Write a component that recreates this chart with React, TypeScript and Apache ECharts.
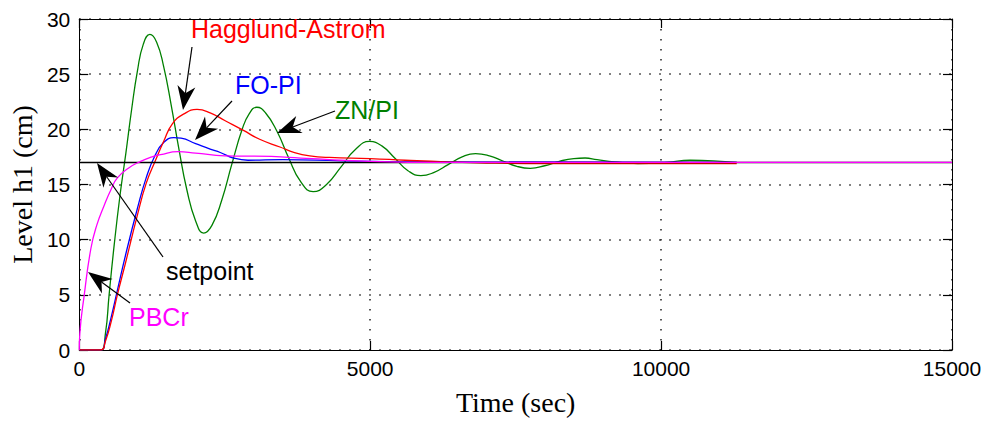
import React, { useEffect, useRef } from "react";
import * as echarts from "echarts";

// ---- data ----
const X_TICKS = [0, 5000, 10000, 15000];
const Y_TICKS = [0, 5, 10, 15, 20, 25, 30];

const ZN_T = [0, 370, 450, 513, 600, 700, 800, 900, 1000, 1100, 1214, 1330, 1450, 1580, 1710, 1850, 2000, 2138, 2280, 2450, 2620, 2800, 2920, 3050, 3200, 3400, 3600, 3800, 4019, 4250, 4500, 4750, 4988, 5200, 5430, 5650, 5872, 6100, 6340, 6580, 6812, 7050, 7280, 7520, 7753, 8000, 8250, 8500, 8694, 8900, 9200, 9600, 10100, 10500, 10900, 11300];
const ZN_V = [0, 0, 1.5, 5, 9.5, 14, 17.8, 21.8, 25.3, 27.7, 28.6, 27.9, 25.7, 22.2, 18.3, 14.5, 11.7, 10.6, 11.3, 13.6, 16.8, 20, 21.4, 22, 21.5, 19.8, 17.4, 15.3, 14.35, 15, 16.6, 18.2, 18.9, 18.5, 17.35, 16.25, 15.8, 16.1, 16.8, 17.5, 17.8, 17.6, 17.13, 16.65, 16.47, 16.7, 17.1, 17.35, 17.4, 17.25, 17.05, 16.9, 17.0, 17.2, 17.15, 17.0];

const HA_T = [0, 370, 450, 550, 655, 800, 998, 1150, 1311, 1450, 1600, 1800, 2024, 2250, 2500, 2822, 3100, 3449, 3700, 3962, 4300, 5000, 5600, 6300, 7000, 8000, 11300];
const HA_V = [0, 0, 0.8, 2.6, 5, 8, 12.2, 15.1, 17.2, 18.9, 20.5, 21.4, 21.8, 21.5, 20.8, 19.9, 19.1, 18.4, 17.9, 17.6, 17.45, 17.35, 17.2, 17.05, 16.95, 16.9, 16.9];

const FO_T = [0, 370, 450, 550, 655, 800, 998, 1150, 1300, 1450, 1625, 1750, 2000, 2250, 2423, 2650, 2900, 3500, 4500, 6000, 11300];
const FO_V = [0, 0, 1, 3, 5.4, 8.7, 12.8, 15.6, 17.6, 18.8, 19.25, 19.2, 18.7, 18.2, 17.9, 17.4, 17.2, 17.25, 17.15, 17.05, 17.0];

const PB_T = [0, 10, 86, 200, 300, 428, 550, 655, 850, 1055, 1250, 1397, 1700, 2000, 2500, 3300, 3600, 4000, 4500, 5000, 6000, 15000];
const PB_V = [0, 1.5, 5, 9.2, 11.3, 13.1, 14.6, 15.6, 16.5, 17.1, 17.5, 17.7, 17.98, 17.85, 17.6, 17.55, 17.45, 17.35, 17.2, 17.1, 17.0, 17.0];

const SP_T = [0, 15000];
const SP_V = [17, 17];

const zip = (t: number[], v: number[]) => t.map((x, i) => [x, v[i]]);

const SANS = "'Liberation Sans', Arial, Helvetica, sans-serif";
const SERIF = "'Liberation Serif', 'Times New Roman', serif";

function arrow(x1: number, y1: number, x2: number, y2: number, L = 24, W = 9) {
  const dx = x2 - x1, dy = y2 - y1;
  const len = Math.sqrt(dx * dx + dy * dy);
  const ux = dx / len, uy = dy / len;
  const nx = -uy, ny = ux;
  const bx = x2 - ux * L, by = y2 - uy * L;
  const mx = x2 - ux * L * 0.7, my = y2 - uy * L * 0.7;
  return [
    { type: "line", shape: { x1, y1, x2: mx, y2: my }, style: { stroke: "#000", lineWidth: 1.2 }, z: 100 },
    {
      type: "polygon",
      shape: { points: [[x2, y2], [bx + nx * W, by + ny * W], [mx, my], [bx - nx * W, by - ny * W]] },
      style: { fill: "#000" },
      z: 100,
    },
  ];
}

function label(text: string, x: number, y: number, color: string) {
  return {
    type: "text",
    x,
    y,
    z: 100,
    style: { text, fill: color, font: `25px ${SANS}`, textVerticalAlign: "middle", textAlign: "left" },
  };
}

export default function App() {
  const ref = useRef<HTMLDivElement>(null);
  useEffect(() => {
    if (!ref.current) return;
    const chart = echarts.init(ref.current, null, { renderer: "svg" });
    const dotted = { color: "#222", width: 1.5, type: [1.5, 8.5] as any };
    const axisCommon = {
      axisLine: { show: true, onZero: false, lineStyle: { color: "#000", width: 1 } },
      axisTick: { show: true, inside: true, length: 9, lineStyle: { color: "#000", width: 1.2 } },
    };
    const line = (name: string, data: number[][], color: string, width = 1.3) => ({
      name,
      type: "line",
      data,
      showSymbol: false,
      symbol: "none",
      smooth: 0.5,
      lineStyle: { color, width },
      itemStyle: { color },
      xAxisIndex: 0,
      yAxisIndex: 0,
    });
    chart.setOption({
      animation: false,
      backgroundColor: "#fff",
      grid: { left: 75, right: 35, top: 19, bottom: 73, containLabel: false },
      xAxis: [
        {
          type: "value",
          min: X_TICKS[0],
          max: X_TICKS[X_TICKS.length - 1],
          interval: 5000,
          ...axisCommon,
          axisLabel: { color: "#000", fontFamily: SANS, fontSize: 21, margin: 8, formatter: (v: number) => String(v) },
          splitLine: { show: true, lineStyle: dotted },
          name: "Time (sec)",
          nameLocation: "middle",
          nameGap: 38,
          nameTextStyle: { fontFamily: SERIF, fontSize: 28, color: "#000" },
        },
        {
          type: "value",
          position: "top",
          min: X_TICKS[0],
          max: X_TICKS[X_TICKS.length - 1],
          interval: 5000,
          ...axisCommon,
          axisLabel: { show: false },
          splitLine: { show: false },
        },
      ],
      yAxis: [
        {
          type: "value",
          min: Y_TICKS[0],
          max: Y_TICKS[Y_TICKS.length - 1],
          interval: 5,
          ...axisCommon,
          axisLabel: { color: "#000", fontFamily: SANS, fontSize: 21, margin: 9, formatter: (v: number) => String(v) },
          splitLine: { show: true, lineStyle: dotted },
          name: "Level h1 (cm)",
          nameLocation: "middle",
          nameGap: 40,
          nameTextStyle: { fontFamily: SERIF, fontSize: 28, color: "#000" },
        },
        {
          type: "value",
          position: "right",
          min: Y_TICKS[0],
          max: Y_TICKS[Y_TICKS.length - 1],
          interval: 5,
          ...axisCommon,
          axisLabel: { show: false },
          splitLine: { show: false },
        },
      ],
      series: [
        line("ZN/PI", zip(ZN_T, ZN_V), "#008000"),
        line("FO-PI", zip(FO_T, FO_V), "#0000ff"),
        line("Hagglund-Astrom", zip(HA_T, HA_V), "#ff0000"),
        line("setpoint", zip(SP_T, SP_V), "#000000", 1.5),
        line("PBCr", zip(PB_T, PB_V), "#ff00ff"),
      ],
      graphic: [
        label("Hagglund-Astrom", 191, 29, "#ff0000"),
        label("FO-PI", 235, 85, "#0000ff"),
        label("ZN/PI", 335, 110, "#008000"),
        label("setpoint", 166, 271, "#000000"),
        label("PBCr", 129, 317, "#ff00ff"),
        ...arrow(192, 47, 183, 110),
        ...arrow(232, 101, 195, 140),
        ...arrow(335, 111, 277, 133),
        ...arrow(163, 257, 97, 163),
        ...arrow(130, 303, 88, 272),
      ],
    });
    return () => chart.dispose();
  }, []);
  return (
    <div
      ref={ref}
      style={{ position: "absolute", left: 0, top: 0, width: 987, height: 423, background: "#fff" }}
    />
  );
}
